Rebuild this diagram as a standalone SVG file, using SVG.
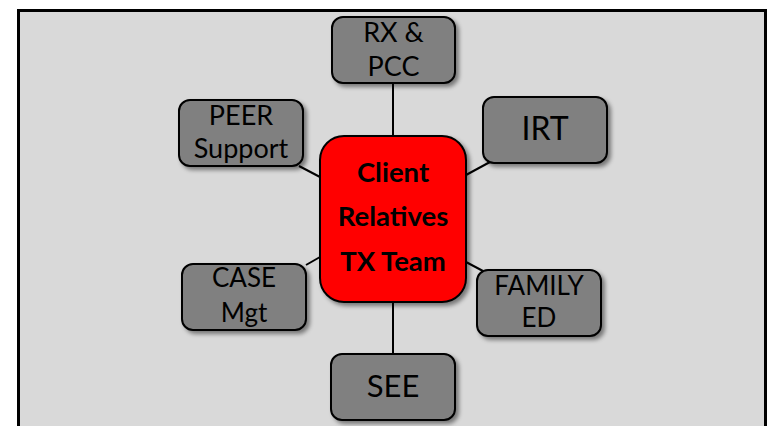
<svg xmlns="http://www.w3.org/2000/svg" width="769" height="426" viewBox="0 0 769 426">
  <defs>
    <filter id="shadow" x="-20%" y="-20%" width="150%" height="150%">
      <feDropShadow dx="3" dy="3" stdDeviation="2" flood-color="#000" flood-opacity="0.45"/>
    </filter>
  </defs>
  <style>
    .frame { fill: #d9d9d9; stroke: #000; stroke-width: 3; }
    .box { fill: #808080; stroke: #000; stroke-width: 2; filter: url(#shadow); }
    .hub { fill: #ff0000; stroke: #000; stroke-width: 2; filter: url(#shadow); }
    .lbl { font-family: Lato, "Liberation Sans", sans-serif; fill: #000; text-anchor: middle; }
    .hubtxt { font-family: Lato, "Liberation Sans", sans-serif; font-weight: bold; font-size: 27.5px; fill: #000; text-anchor: middle; }
    .link { stroke: #000; stroke-width: 2; fill: none; }
  </style>

  <rect width="769" height="426" fill="#ffffff"/>
  <rect class="frame" x="18.5" y="10.5" width="747" height="430"/>

  <!-- connectors -->
  <g id="connectors">
    <line class="link" x1="393" y1="83" x2="393" y2="136"/>
    <line class="link" x1="299" y1="166" x2="320" y2="177"/>
    <line class="link" x1="490" y1="162" x2="466" y2="175"/>
    <line class="link" x1="306" y1="265" x2="320" y2="257"/>
    <line class="link" x1="466" y1="262" x2="483" y2="271"/>
    <line class="link" x1="393" y1="302" x2="393" y2="354"/>
  </g>

  <g id="rx-pcc">
    <rect class="box" x="332" y="17" width="123" height="66" rx="11"/>
    <text class="lbl" font-size="27" x="393.5" y="42">RX &amp;</text>
    <text class="lbl" font-size="27" x="393.5" y="76">PCC</text>
  </g>

  <g id="peer-support">
    <rect class="box" x="179" y="100" width="124" height="66" rx="11"/>
    <text class="lbl" font-size="27" x="241" y="125">PEER</text>
    <text class="lbl" font-size="27" x="241" y="158">Support</text>
  </g>

  <g id="irt">
    <rect class="box" x="483" y="97" width="124" height="66" rx="11"/>
    <text class="lbl" font-size="32" x="545" y="140">IRT</text>
  </g>

  <g id="client-hub">
    <rect class="hub" x="320" y="136" width="146" height="166" rx="24"/>
    <text class="hubtxt" x="393" y="182">Client</text>
    <text class="hubtxt" x="393" y="226">Relatives</text>
    <text class="hubtxt" x="393" y="271">TX Team</text>
  </g>

  <g id="case-mgt">
    <rect class="box" x="182" y="264" width="124" height="66" rx="11"/>
    <text class="lbl" font-size="26" x="244" y="287">CASE</text>
    <text class="lbl" font-size="26" x="244" y="322">Mgt</text>
  </g>

  <g id="family-ed">
    <rect class="box" x="477" y="270" width="124" height="66" rx="11"/>
    <text class="lbl" font-size="26" x="539" y="295">FAMILY</text>
    <text class="lbl" font-size="26" x="539" y="327">ED</text>
  </g>

  <g id="see">
    <rect class="box" x="331" y="354" width="124" height="66" rx="11"/>
    <text class="lbl" font-size="31" x="393" y="397">SEE</text>
  </g>
</svg>
